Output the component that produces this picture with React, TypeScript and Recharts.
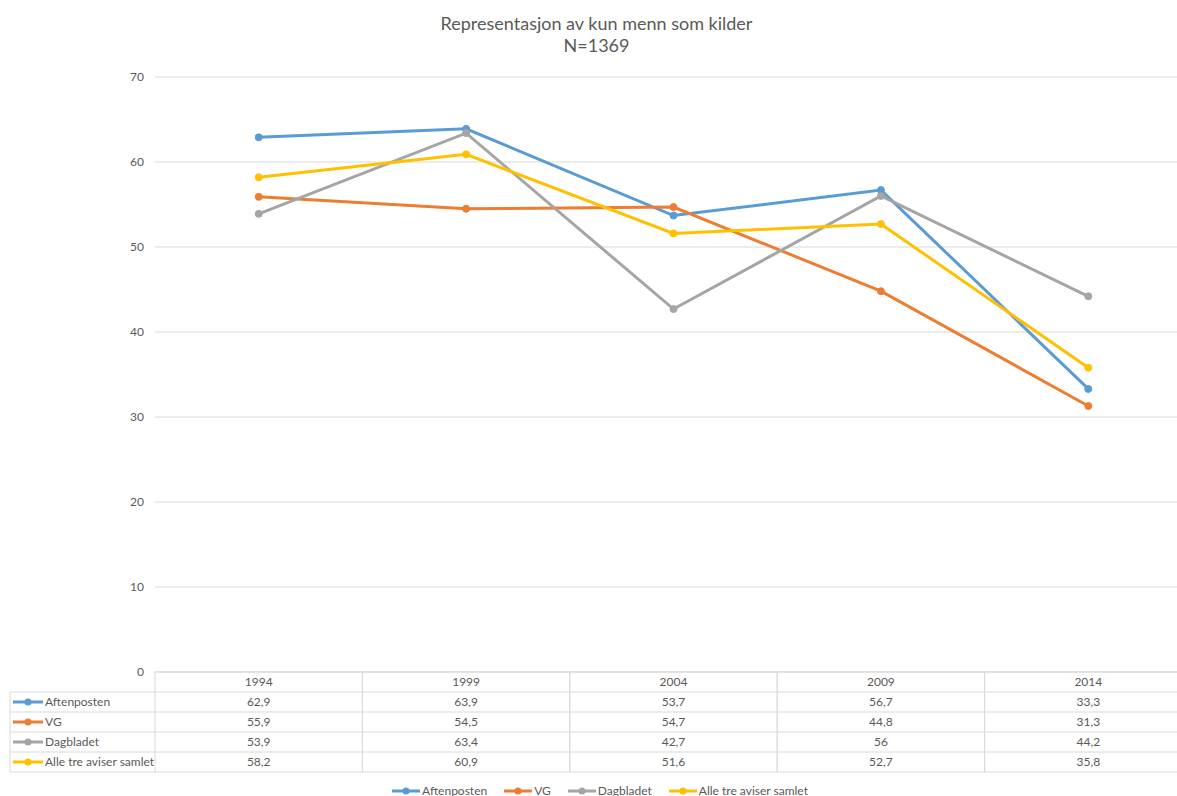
import React from "react";
import { LineChart, Line, XAxis, YAxis, CartesianGrid, Legend } from "recharts";

const years = ["1994", "1999", "2004", "2009", "2014"];
const aftenposten = [62.9, 63.9, 53.7, 56.7, 33.3];
const vg = [55.9, 54.5, 54.7, 44.8, 31.3];
const dagbladet = [53.9, 63.4, 42.7, 56, 44.2];
const alleTre = [58.2, 60.9, 51.6, 52.7, 35.8];
const yTicks = [0, 10, 20, 30, 40, 50, 60, 70];

const series = [
  { key: "aftenposten", name: "Aftenposten", color: "#5B9BD5", values: aftenposten },
  { key: "vg", name: "VG", color: "#ED7D31", values: vg },
  { key: "dagbladet", name: "Dagbladet", color: "#A5A5A5", values: dagbladet },
  { key: "alleTre", name: "Alle tre aviser samlet", color: "#FFC000", values: alleTre },
];

const data = years.map((year, i) => {
  const row: Record<string, string | number> = { year };
  series.forEach((s) => {
    row[s.key] = s.values[i];
  });
  return row;
});

const FONT = "Lato, 'Open Sans', sans-serif";
const TEXT = "#595959";
const BORDER = "#d9d9d9";
const ROW_H = 20;
const LEGEND_COL_LEFT = 10;

const fmt = (v: number) => String(v).replace(".", ",");

// x-axis tick that draws one column of the data table under the chart
const TableTick = (props: any) => {
  const { x, y, payload, width, visibleTicksCount } = props;
  const colW = width / (visibleTicksCount || years.length);
  const left = x - colW / 2;
  const right = x + colW / 2;
  const idx = payload.index;
  const rows = series.length + 1;
  return (
    <g>
      {Array.from({ length: rows + 1 }).map((_, k) => (
        <line key={`h${k}`} x1={left} x2={right} y1={y + k * ROW_H} y2={y + k * ROW_H} stroke={BORDER} />
      ))}
      <line x1={left} x2={left} y1={y} y2={y + rows * ROW_H} stroke={BORDER} />
      <line x1={right} x2={right} y1={y} y2={y + rows * ROW_H} stroke={BORDER} />
      <text x={x} y={y + ROW_H / 2} dy="0.35em" textAnchor="middle" fontSize={12} fill={TEXT} fontFamily={FONT}>
        {payload.value}
      </text>
      {series.map((s, i) => (
        <text
          key={s.key}
          x={x}
          y={y + (i + 1) * ROW_H + ROW_H / 2}
          dy="0.35em"
          textAnchor="middle"
          fontSize={12}
          fill={TEXT}
          fontFamily={FONT}
        >
          {fmt(s.values[idx])}
        </text>
      ))}
      {idx === 0 && (
        <g>
          {series.map((s, i) => {
            const cy = y + (i + 1) * ROW_H + ROW_H / 2;
            return (
              <g key={s.key}>
                <line x1={LEGEND_COL_LEFT} x2={left} y1={y + (i + 1) * ROW_H} y2={y + (i + 1) * ROW_H} stroke={BORDER} />
                <line x1={LEGEND_COL_LEFT + 3} x2={LEGEND_COL_LEFT + 33} y1={cy} y2={cy} stroke={s.color} strokeWidth={3} />
                <circle cx={LEGEND_COL_LEFT + 18} cy={cy} r={3.5} fill={s.color} />
                <text x={LEGEND_COL_LEFT + 35} y={cy} dy="0.35em" fontSize={12} fill={TEXT} fontFamily={FONT}>
                  {s.name}
                </text>
              </g>
            );
          })}
          <line x1={LEGEND_COL_LEFT} x2={left} y1={y + rows * ROW_H} y2={y + rows * ROW_H} stroke={BORDER} />
          <line x1={LEGEND_COL_LEFT} x2={LEGEND_COL_LEFT} y1={y + ROW_H} y2={y + rows * ROW_H} stroke={BORDER} />
        </g>
      )}
    </g>
  );
};

const BottomLegend = () => (
  <div style={{ display: "flex", justifyContent: "center", gap: 17, fontFamily: FONT, fontSize: 12, color: TEXT }}>
    {series.map((s) => (
      <div key={s.key} style={{ display: "flex", alignItems: "center" }}>
        <svg width={28} height={10} style={{ marginRight: 2 }}>
          <line x1={0} x2={28} y1={5} y2={5} stroke={s.color} strokeWidth={3} />
          <circle cx={14} cy={5} r={3.5} fill={s.color} />
        </svg>
        <span>{s.name}</span>
      </div>
    ))}
  </div>
);

export default function App() {
  return (
    <div
      style={{
        position: "absolute",
        left: 0,
        top: 0,
        width: 1177,
        height: 796,
        overflow: "hidden",
        background: "#fff",
      }}
    >
      <div
        style={{
          position: "absolute",
          top: 12,
          left: 0,
          width: 1193,
          textAlign: "center",
          fontFamily: FONT,
          fontSize: 18,
          lineHeight: "22px",
          color: TEXT,
        }}
      >
        <div>Representasjon av kun menn som kilder</div>
        <div>N=1369</div>
      </div>
      <LineChart width={1200} height={796} data={data} margin={{ top: 77, right: 8, left: 95, bottom: 0 }}>
        <CartesianGrid vertical={false} stroke={BORDER} />
        <XAxis
          dataKey="year"
          scale="band"
          axisLine={false}
          tickLine={false}
          tickSize={0}
          tickMargin={0}
          height={100}
          interval={0}
          tick={<TableTick />}
        />
        <YAxis
          domain={[0, 70]}
          ticks={yTicks}
          axisLine={false}
          tickLine={false}
          width={60}
          tickMargin={5}
          tick={{ fontSize: 12, fill: TEXT, fontFamily: FONT }}
        />
        <Legend
          content={<BottomLegend />}
          height={24}
          wrapperStyle={{ top: 783, left: 0, width: 1200 }}
        />
        {series.map((s) => (
          <Line
            key={s.key}
            dataKey={s.key}
            name={s.name}
            stroke={s.color}
            strokeWidth={3}
            dot={{ r: 3.5, fill: s.color, stroke: s.color, strokeWidth: 1 }}
            isAnimationActive={false}
          />
        ))}
      </LineChart>
    </div>
  );
}
